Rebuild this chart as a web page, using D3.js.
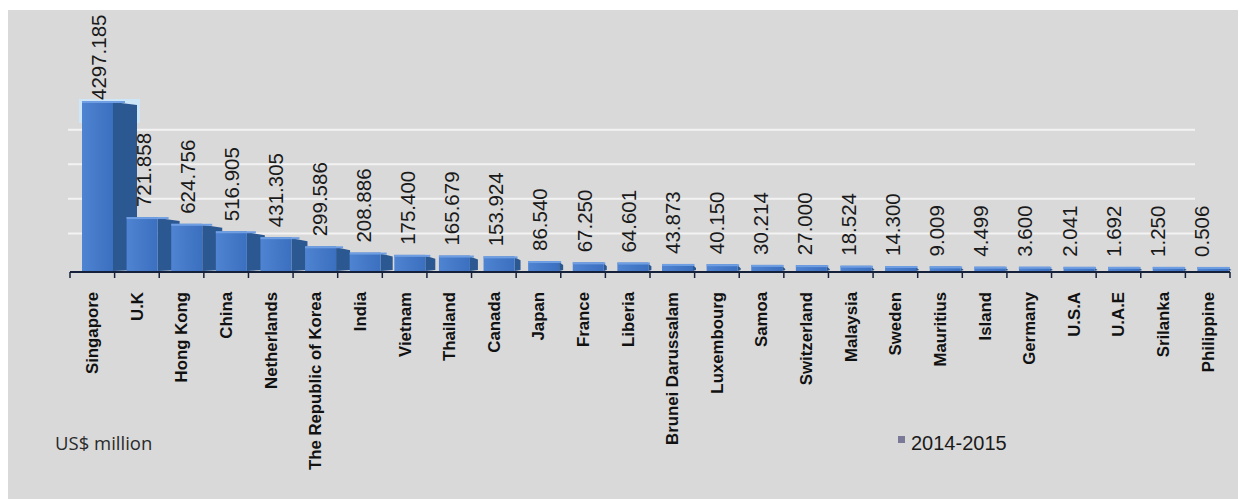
<meta charset="utf-8">
<html>

<head>
    <script src="https://d3js.org/d3.v7.min.js"></script>
    <style>
        body { margin: 0; background: #ffffff; }
    </style>
</head>

<body>
    <div id="chart"></div>

    <script>
        // data
        const countries = ["Singapore", "U.K", "Hong Kong", "China", "Netherlands", "The Republic of Korea",
            "India", "Vietnam", "Thailand", "Canada", "Japan", "France", "Liberia", "Brunei Darussalam",
            "Luxembourg", "Samoa", "Switzerland", "Malaysia", "Sweden", "Mauritius", "Island", "Germany",
            "U.S.A", "U.A.E", "Srilanka", "Philippine"];
        const values = [4297.185, 721.858, 624.756, 516.905, 431.305, 299.586, 208.886, 175.400, 165.679,
            153.924, 86.540, 67.250, 64.601, 43.873, 40.150, 30.214, 27.000, 18.524, 14.300, 9.009, 4.499,
            3.600, 2.041, 1.692, 1.250, 0.506];
        const valueLabels = ["4297.185", "721.858", "624.756", "516.905", "431.305", "299.586", "208.886",
            "175.400", "165.679", "153.924", "86.540", "67.250", "64.601", "43.873", "40.150", "30.214",
            "27.000", "18.524", "14.300", "9.009", "4.499", "3.600", "2.041", "1.692", "1.250", "0.506"];
        const gridValues = [500, 1000, 1500, 2000];
        const seriesName = "2014-2015";
        const unitLabel = "US$ million";

        const W = 1239, H = 499;
        const floorY = 271, axisY = 272;

        const svg = d3.select("#chart").append("svg")
            .attr("width", W)
            .attr("height", H)
            .style("display", "block");

        // background, white strip on top and left
        svg.append("rect").attr("x", 8).attr("y", 10).attr("width", W - 9).attr("height", H - 10)
            .attr("fill", "#d9d9d9");

        const data = countries.map((c, i) => ({ name: c, value: values[i], label: valueLabels[i], i: i }));

        // scales (the big bar runs off the top, so the scale clamps it)
        const x = d3.scaleBand().domain(countries).range([70, 1230]).padding(0);
        const y = d3.scaleLinear().domain([0, 2400]).range([268, 102]).clamp(true);

        // back wall gridlines
        svg.append("g").selectAll("line").data(gridValues).enter().append("line")
            .attr("x1", 68).attr("x2", 1195)
            .attr("y1", d => y(d)).attr("y2", d => y(d))
            .attr("stroke", "#f3f3f3")
            .attr("stroke-width", 2);

        // gradient for the front faces
        const defs = svg.append("defs");
        const grad = defs.append("linearGradient").attr("id", "front").attr("x1", "0").attr("x2", "1");
        grad.append("stop").attr("offset", "0%").attr("stop-color", "#4f84d2");
        grad.append("stop").attr("offset", "100%").attr("stop-color", "#3b6fbf");

        const barW = 31;
        const depth = i => Math.max(3, 24 - 2 * i);
        const bars = svg.append("g").selectAll("g").data(data).enter().append("g");

        // glow round the clipped bar
        bars.filter(d => d.value > y.domain()[1]).append("rect")
            .attr("x", d => x(d.name) + 12 - 3)
            .attr("y", d => y(d.value) - 3)
            .attr("width", d => barW + depth(d.i) + 6)
            .attr("height", 24)
            .attr("fill", "#cde6f8");

        // side face
        bars.append("path")
            .attr("d", d => {
                const x1 = x(d.name) + 12 + barW, t = y(d.value), dx = depth(d.i);
                return `M${x1},${t} L${x1 + dx},${Math.min(t + 3, floorY - 1)} L${x1 + dx},${floorY - 1} L${x1},${floorY} Z`;
            })
            .attr("fill", "#2c5892");

        // front face
        bars.append("rect")
            .attr("x", d => x(d.name) + 12)
            .attr("y", d => y(d.value) - 1)
            .attr("width", barW)
            .attr("height", d => floorY - y(d.value) + 1)
            .attr("fill", "url(#front)");

        // top edge
        bars.append("rect")
            .attr("x", d => x(d.name) + 12)
            .attr("y", d => y(d.value) - 1)
            .attr("width", d => barW + depth(d.i) * 0.5)
            .attr("height", 2)
            .attr("fill", "#6f9fe2");

        // value labels above bars
        svg.append("g").selectAll("text").data(data).enter().append("text")
            .attr("transform", d => {
                const cx = x(d.name) + x.bandwidth() / 2 + 7 - 13 * d.i / 25;
                const cy = y(d.value) - (d.value > y.domain()[1] ? 2 : 11);
                return `translate(${cx},${cy}) rotate(-90)`;
            })
            .attr("dy", "0.35em")
            .attr("text-anchor", "start")
            .style("font-family", "'Liberation Sans', Arial, sans-serif")
            .style("font-size", "20.5px")
            .style("fill", "#1a1a1a")
            .text(d => d.label);

        // category axis
        const axis = svg.append("g");
        axis.append("line")
            .attr("x1", 70).attr("x2", 1230)
            .attr("y1", axisY).attr("y2", axisY)
            .attr("stroke", "#15213a").attr("stroke-width", 2);
        const tickXs = countries.map(c => x(c)).concat([x.range()[1]]);
        axis.selectAll("line.tick").data(tickXs).enter().append("line")
            .attr("class", "tick")
            .attr("x1", d => d).attr("x2", d => d)
            .attr("y1", axisY).attr("y2", axisY + 6)
            .attr("stroke", "#15213a").attr("stroke-width", 1.5);

        axis.selectAll("text").data(countries).enter().append("text")
            .attr("transform", d => `translate(${x(d) + x.bandwidth() / 2},292) rotate(-90)`)
            .attr("dy", "0.35em")
            .attr("text-anchor", "end")
            .style("font-family", "'Liberation Sans', Arial, sans-serif")
            .style("font-weight", "bold")
            .style("font-size", "16.8px")
            .style("fill", "#111")
            .text(d => d);

        // unit note
        svg.append("text")
            .attr("x", 55).attr("y", 450)
            .style("font-family", "'Open Sans', sans-serif")
            .style("font-size", "18.5px")
            .style("fill", "#2a2a2a")
            .text(unitLabel);

        // legend
        svg.append("rect")
            .attr("x", 898).attr("y", 436).attr("width", 7).attr("height", 7)
            .attr("fill", "#7a7a98");
        svg.append("text")
            .attr("x", 911).attr("y", 450)
            .style("font-family", "'Liberation Sans', Arial, sans-serif")
            .style("font-size", "20px")
            .style("fill", "#1a1a1a")
            .text(seriesName);
    </script>
</body>

</html>
